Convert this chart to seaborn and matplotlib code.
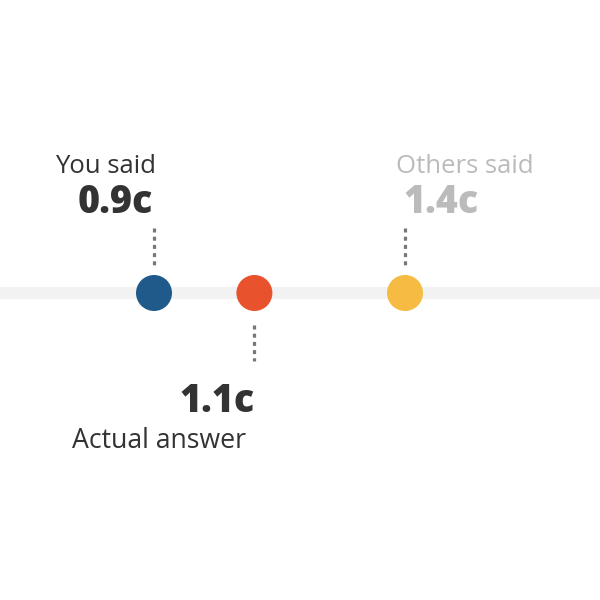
import matplotlib
matplotlib.use("Agg")
import matplotlib.pyplot as plt
import seaborn as sns
import pandas as pd

# Data
labels = ["You said", "Actual answer", "Others said"]
values = [0.9, 1.1, 1.4]
value_texts = ["0.9c", "1.1c", "1.4c"]
colors = ["#1f5a8b", "#e8532d", "#f5bb42"]

sns.set_theme(style="white")
plt.rcParams["font.family"] = ["Open Sans", "DejaVu Sans"]
plt.rcParams["lines.scale_dashes"] = False

df = pd.DataFrame({"label": labels, "value": values})
LINE_Y = 293  # vertical position of the track (pixel-like units)
df["y"] = LINE_Y

fig = plt.figure(figsize=(6, 6), dpi=100)
ax = fig.add_axes([0, 0, 1, 1])
PX = 502.0  # pixels per unit
x0 = 0.9 - 154 / PX
ax.set_xlim(x0, x0 + 600 / PX)
ax.set_ylim(600, 0)
ax.axis("off")

ax.axhline(LINE_Y, color="#f2f2f2", lw=12 * 0.72, zorder=0)

sns.scatterplot(data=df, x="value", y="y", hue="label", palette=colors,
                s=(36 * 0.72) ** 2, linewidth=0, legend=False, ax=ax, zorder=3)

dark = "#333333"
grey = "#bbbbbb"
dot_col = "#777777"

def dotted(x, y1, y2):
    ax.plot([x, x], [y1, y2], color=dot_col, lw=3.2 * 0.72,
            linestyle=(0, (4 * 0.72, 4.2 * 0.72)), solid_capstyle="butt",
            dash_capstyle="butt", zorder=2)

# You said
v = values[0]
dotted(v, LINE_Y - 65, LINE_Y - 28)
ax.annotate(labels[0], (v, LINE_Y), xytext=(2, 120), textcoords="offset pixels",
            ha="right", va="baseline", fontsize=18.5, color=dark)
ax.annotate(value_texts[0], (v, LINE_Y), xytext=(-1, 80), textcoords="offset pixels",
            ha="right", va="baseline", fontsize=27, fontweight="heavy", color=dark)

# Actual answer
v = values[1]
dotted(v, LINE_Y + 32, LINE_Y + 68)
ax.annotate(value_texts[1], (v, LINE_Y), xytext=(0, -119), textcoords="offset pixels",
            ha="right", va="baseline", fontsize=27, fontweight="heavy", color=dark)
ax.annotate(labels[1], (v, LINE_Y), xytext=(-8, -155), textcoords="offset pixels",
            ha="right", va="baseline", fontsize=19.2, color=dark)

# Others said
v = values[2]
dotted(v, LINE_Y - 65, LINE_Y - 28)
ax.annotate(labels[2], (v, LINE_Y), xytext=(-9, 120), textcoords="offset pixels",
            ha="left", va="baseline", fontsize=18.5, color=grey)
ax.annotate(value_texts[2], (v, LINE_Y), xytext=(-2, 80), textcoords="offset pixels",
            ha="left", va="baseline", fontsize=27, fontweight="heavy", color=grey)

fig.savefig("out.png", dpi=100, facecolor="white")
